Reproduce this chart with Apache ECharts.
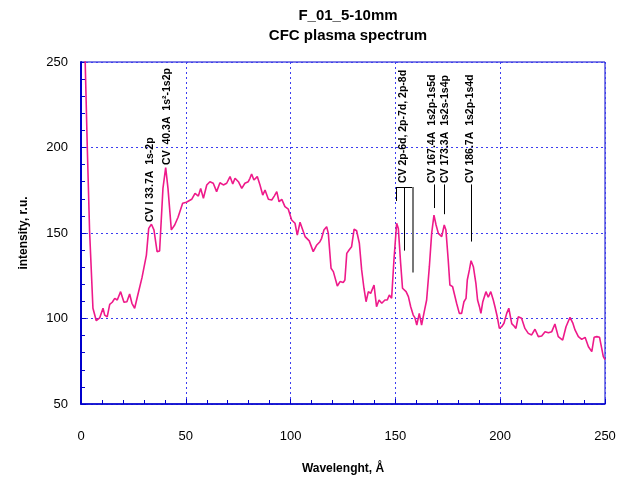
<!DOCTYPE html>
<html>
<head>
<meta charset="utf-8">
<script src="https://cdn.jsdelivr.net/npm/echarts@6/dist/echarts.min.js"></script>
<style>
  html, body { margin: 0; padding: 0; background: #fff; }
  #main { width: 627px; height: 479px; }
</style>
</head>
<body>
<div id="main"></div>
<script>
// spectrum: wavelength (A) and intensity (r.u.)
var wavelength = [1, 2, 3, 4.1, 5.7, 7.3, 8.9, 10.5, 11.3, 12.5, 13.7, 14.9, 16.1, 17.3, 18.9, 20.5, 21.9, 23.2, 24.3, 25.6,
    26.9, 27.7, 29.1, 29.9, 31.2, 32.3, 33.6, 34.8, 36.3, 37.5, 39.1, 40.4, 41.5, 43.1, 44.7, 46.3, 47.1, 48.5, 50.3, 52.8,
    54.4, 56, 57.1, 58.4, 60, 61.5, 63.1, 64.7, 66.3, 67.9, 69.5, 71.1, 72.4, 73.5, 75.1, 76.7, 78.2, 79.8, 80.6, 81.4,
    82.5, 84.1, 85.4, 86.7, 87.8, 89.4, 91, 92.2, 93.4, 94.5, 95.8, 97.3, 98.9, 100.5, 102.1, 103.2, 104.5, 105.8, 106.9, 108.9,
    110.8, 112.5, 114, 114.8, 115.9, 117.2, 118, 119.3, 120.4, 122.3, 123.6, 125.1, 125.9, 126.8, 127.9, 129.1, 130.3, 131.5, 132.8, 133.9,
    135, 136, 137.1, 138.2, 139.8, 141, 142.2, 143.5, 145, 146.1, 147.1, 148.2, 149.3, 150.6, 151.4, 152.5, 153.4, 155.1, 156.2, 157.3,
    158.5, 159.3, 160.2, 161.4, 162.5, 163.6, 164.9, 166.2, 167.3, 168.4, 169.4, 170.5, 171.3, 172.1, 173.3, 174.1, 175.2, 176, 177.3, 178.1,
    179.2, 180.5, 181.6, 182.7, 183.7, 184.3, 185.3, 186.1, 187.2, 188.4, 189.2, 190.1, 190.8, 191.7, 192.3, 193.2, 194.3, 195.5, 196.7, 197.5,
    198.6, 199.6, 200.7, 201.8, 203.1, 204.1, 205.5, 206.6, 207.5, 208.6, 210.2, 211.8, 213.4, 215, 216.6, 218.2, 219.8, 221.4, 223, 224.6,
    226.1, 227.7, 229.8, 231.4, 233.3, 234.6, 235.7, 237.3, 238.9, 240.5, 242.1, 243.7, 244.8, 246.1, 247.4, 248.1, 249.2, 250];
var intensity = [265, 250, 200, 151, 106, 98.7, 100.3, 106, 102, 101, 108.3, 109.5, 111.8, 110.8, 115.7, 109.5, 109.8, 114.3, 108.9, 106,
    112.7, 111.8, 123.9, 124.4, 137.1, 152.7, 155.1, 151.8, 139.1, 139.5, 176.1, 188.2, 176.1, 151.8, 154.7, 159.2, 158.6, 167.4, 168, 169.7,
    173.2, 171.6, 176.1, 170.3, 178.1, 180, 179.1, 174.2, 179.4, 178.1, 179.1, 183, 178.7, 182, 180, 176.1, 179.1, 180, 182, 184.5,
    181, 183, 178.1, 172.2, 175.1, 169.7, 169.3, 171.6, 174.2, 168.3, 169.7, 165.4, 163.9, 157.6, 155.7, 148.8, 156.3, 151.8, 147.9, 145.4,
    139.1, 143, 144.9, 146.9, 151.8, 153.7, 149.8, 129.4, 127.4, 119, 121.6, 121, 122.5, 138.1, 140.1, 142, 152.2, 151.3, 144, 128.4,
    117.7, 109.8, 115.7, 114.7, 119.6, 106.9, 110.8, 108.9, 110.8, 110.8, 113.7, 111.8, 134.2, 155.7, 152.7, 132.3, 117.7, 115.7, 112.8, 106.9,
    102, 100.5, 96.2, 103, 96.2, 103, 110.8, 130.3, 149.8, 160.5, 154.7, 149.8, 150.8, 147.9, 154.7, 151.8, 134.2, 119.6, 118.6, 117.7,
    108.9, 103, 103, 109.8, 111.8, 122.5, 128.4, 133.8, 130.3, 120.6, 110.8, 106.9, 103, 109.8, 110.8, 115.7, 112.4, 115.7, 110.8, 106.9,
    101, 94.2, 95.2, 97.2, 103, 106, 97, 95.6, 94.2, 101, 100.1, 94.2, 91.3, 90.4, 93.7, 89.4, 89.8, 92.3, 91.7, 92.3,
    96.8, 89.4, 87.4, 95.2, 100.7, 97.5, 93.3, 89.4, 87.8, 89, 83.5, 80.6, 89, 89.4, 89, 89.8, 77.7, 76];

var xTicks = [0, 50, 100, 150, 200, 250];
var yTicks = [50, 100, 150, 200, 250];

// line annotations: label, x of text, y of text bottom
var labelText = ['CV I 33.7A  1s-2p', 'CV  40.3A  1s\u00b2-1s2p', 'CV 2p-6d, 2p-7d, 2p-8d',
    'CV 167.4A  1s2p-1s5d', 'CV 173.3A  1s2s-1s4p', 'CV 186.7A  1s2p-1s4d'];
var labelX = [32.9, 41.0, 153.6, 167.5, 173.7, 185.6];
var labelY = [156.4, 189.8, 179.2, 179.2, 179.2, 179.2];
// leader lines: [x1, y1, x2, y2]
var leaders = [
    [150.3, 176.9, 158.4, 176.9],
    [150.3, 176.9, 150.3, 168.7],
    [154.1, 176.9, 154.1, 139.7],
    [158.4, 176.9, 158.4, 126.9],
    [168.4, 178.4, 168.4, 164.6],
    [173.2, 178.4, 173.2, 161.0],
    [186.1, 178.4, 186.1, 145.0]
];

var blue = '#0000cc';
var gridBlue = '#3c3cf0';
var font = 'Arial, "Liberation Sans", sans-serif';

var points = wavelength.map(function (w, i) { return [w, intensity[i]]; });

var myChart = echarts.init(document.getElementById('main'));
var option = {
    animation: false,
    title: {
        text: 'F_01_5-10mm\nCFC plasma spectrum',
        left: 343,
        top: 1,
        textAlign: 'center',
        textStyle: { fontFamily: font, fontSize: 15, fontWeight: 'bold', color: '#000', lineHeight: 20 }
    },
    grid: {
        left: 81, right: 22, top: 62, bottom: 75,
        outerBoundsMode: 'none',
        containLabel: false,
        show: true, borderColor: blue, borderWidth: 1, backgroundColor: 'transparent'
    },
    xAxis: {
        type: 'value', min: 0, max: 250, interval: 50,
        name: 'Wavelenght, \u00c5', nameLocation: 'middle', nameGap: 59,
        nameTextStyle: { fontFamily: font, fontSize: 12, fontWeight: 'bold', color: '#000' },
        axisLine: { lineStyle: { color: blue, width: 1.5 } },
        axisTick: { inside: true, length: 5, lineStyle: { color: blue } },
        minorTick: { show: true, splitNumber: 5, length: 4, lineStyle: { color: blue } },
        splitLine: { show: true, lineStyle: { color: gridBlue, type: [2, 3], width: 1 } },
        axisLabel: {
            margin: 26, fontFamily: font, fontSize: 13, color: '#000',
            formatter: function (v) { return xTicks.indexOf(v) >= 0 ? String(v) : ''; }
        }
    },
    yAxis: {
        type: 'value', min: 50, max: 250, interval: 50,
        name: 'intensity, r.u.', nameLocation: 'middle', nameGap: 51,
        nameTextStyle: { fontFamily: font, fontSize: 12, fontWeight: 'bold', color: '#000' },
        axisLine: { show: true, lineStyle: { color: blue, width: 2 } },
        axisTick: { show: true, inside: true, length: 5, lineStyle: { color: blue } },
        minorTick: { show: true, splitNumber: 5, length: 4, lineStyle: { color: blue } },
        splitLine: { show: true, lineStyle: { color: gridBlue, type: [2, 3], width: 1 } },
        axisLabel: {
            margin: 13, fontFamily: font, fontSize: 13, color: '#000',
            formatter: function (v) { return yTicks.indexOf(v) >= 0 ? String(v) : ''; }
        }
    },
    series: [
        {
            type: 'line',
            data: points,
            showSymbol: false,
            clip: true,
            lineStyle: { color: '#ee1a8a', width: 1.6 },
            markLine: {
                silent: true,
                symbol: ['none', 'none'],
                label: { show: false },
                lineStyle: { color: '#000', width: 1, type: 'solid' },
                data: leaders.map(function (l, i) {
                    var style = (i === 3) ? { color: '#777', width: 2, type: 'solid' } : { color: '#000', width: 1, type: 'solid' };
                    return [{ coord: [l[0], l[1]], lineStyle: style }, { coord: [l[2], l[3]] }];
                })
            }
        }
    ]
};
myChart.setOption(option);

// vertical labels placed through the chart's own scales
var texts = labelText.map(function (t, i) {
    var p = myChart.convertToPixel({ seriesIndex: 0 }, [labelX[i], labelY[i]]);
    return {
        type: 'text',
        x: p[0], y: p[1],
        rotation: Math.PI / 2,
        style: {
            text: t,
            fill: '#000',
            font: 'bold 10.5px ' + font,
            align: 'left',
            verticalAlign: 'middle'
        }
    };
});
myChart.setOption({ graphic: texts });
</script>
</body>
</html>
